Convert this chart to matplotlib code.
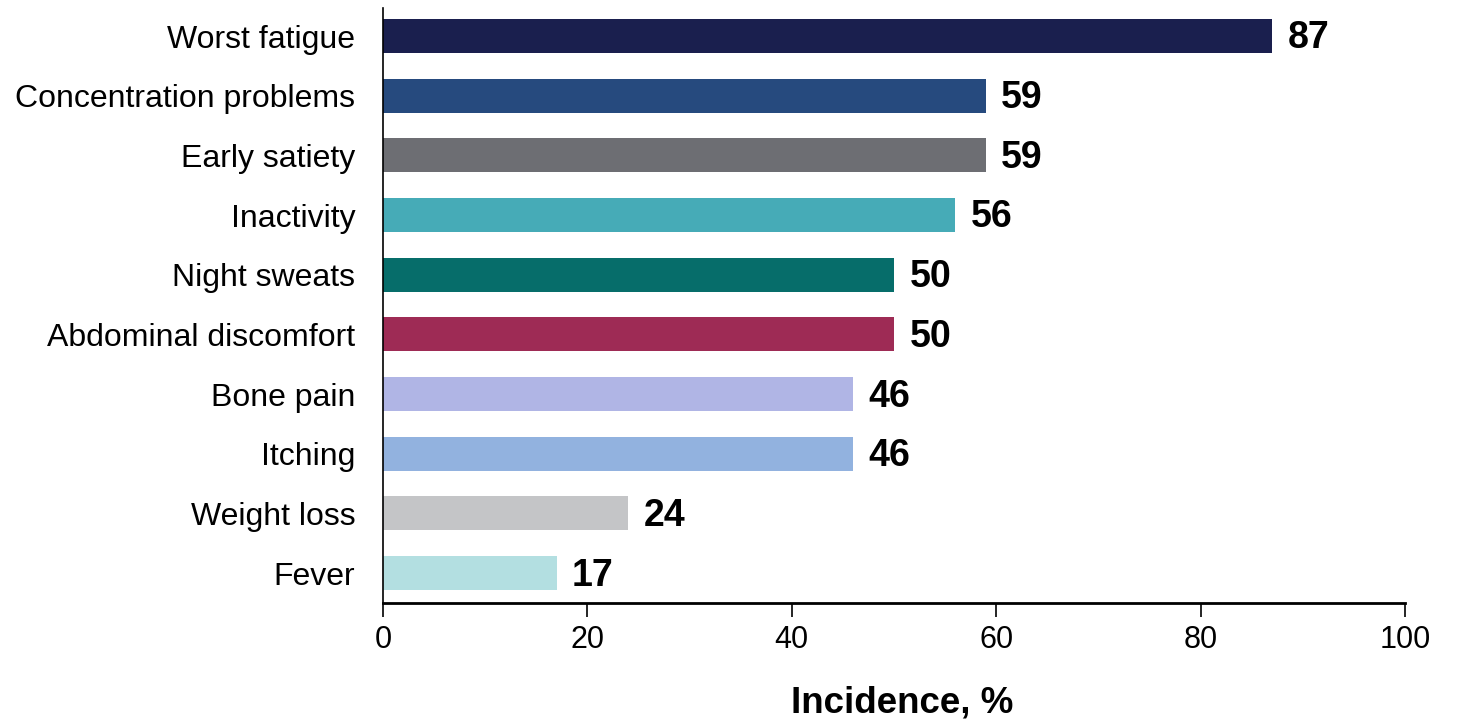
import matplotlib
matplotlib.use("Agg")
import matplotlib.pyplot as plt

plt.rcParams['font.family'] = ['Liberation Sans', 'DejaVu Sans']

categories = ["Worst fatigue", "Concentration problems", "Early satiety", "Inactivity",
              "Night sweats", "Abdominal discomfort", "Bone pain", "Itching",
              "Weight loss", "Fever"]
values = [87, 59, 59, 56, 50, 50, 46, 46, 24, 17]
colors = ["#1a1f4e", "#264a7e", "#6d6e73", "#46abb7", "#066d6a",
          "#9e2b55", "#b0b5e5", "#92b2df", "#c4c5c7", "#b3dfe1"]
xticks = [0, 20, 40, 60, 80, 100]
xlabel = "Incidence, %"

fig = plt.figure(figsize=(14.58, 7.21), dpi=100)
ax = fig.add_axes([383/1458, 1-603/721, (1405-383)/1458, (603-8)/721])

y = list(range(len(categories)))
ax.barh(y, values, height=0.57, color=colors)
for yi, v in zip(y, values):
    ax.text(v + 1.5, yi + 0.04, str(v), va='center', ha='left', fontsize=27, fontweight='bold')

ax.set_ylim(9.5, -0.47)
ax.set_xlim(0, 100)
ax.set_xticks(xticks)
ax.set_xticklabels([str(t) for t in xticks], fontsize=22)
ax.set_yticks(y)
ax.set_yticklabels(categories, fontsize=23)
ax.tick_params(axis='y', length=0, pad=20)
ax.tick_params(axis='x', length=10, width=1.2, pad=6, direction='out')
for s in ['top', 'right']:
    ax.spines[s].set_visible(False)
ax.spines['left'].set_linewidth(1.2)
ax.spines['bottom'].set_linewidth(2)
ax.set_xlabel(xlabel, fontsize=26.5, fontweight='bold')
ax.xaxis.label.set_va('center')
ax.xaxis.set_label_coords(0.508, -100/595)

fig.savefig("out.png", dpi=100)
